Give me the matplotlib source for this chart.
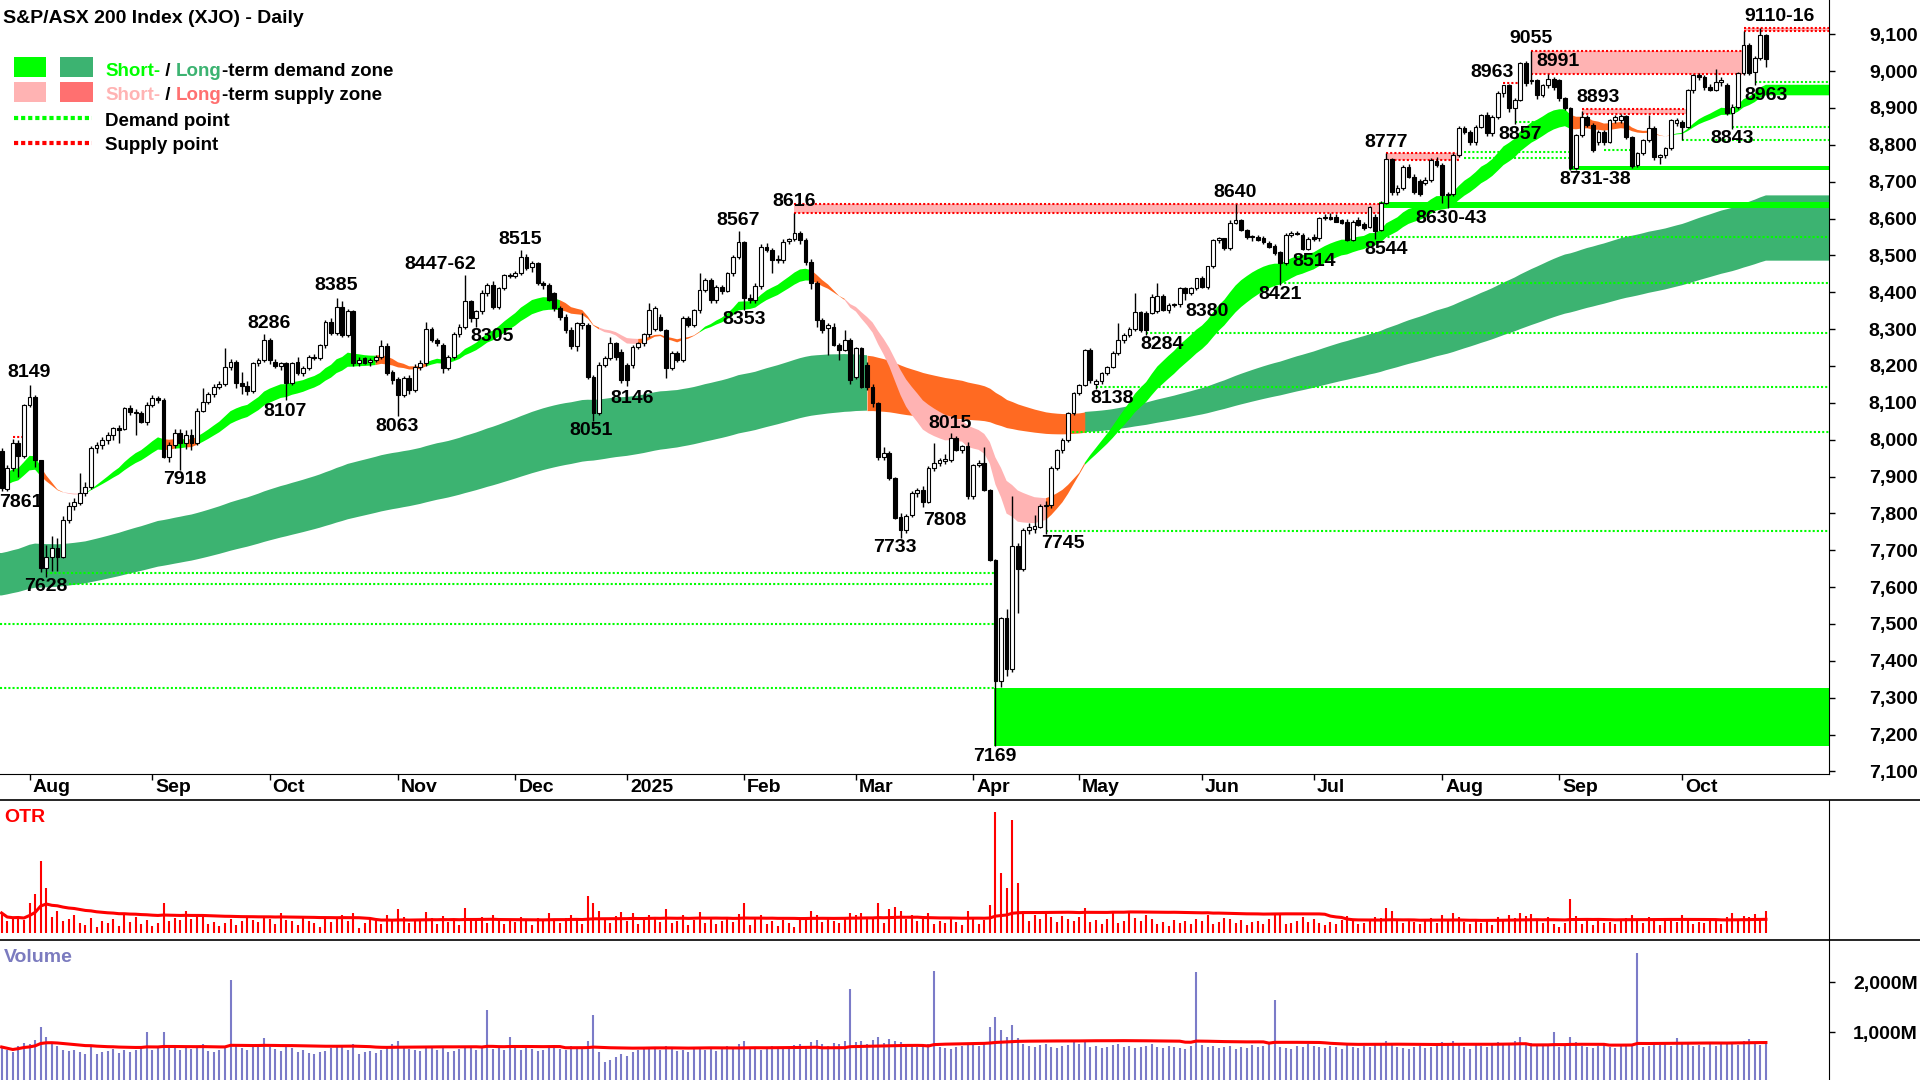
import numpy as np
import pandas as pd
import matplotlib
matplotlib.use("Agg")
import matplotlib.pyplot as plt
from matplotlib.patches import Rectangle
from matplotlib.lines import Line2D
from matplotlib.transforms import blended_transform_factory, offset_copy

plt.rcParams["font.family"] = ["Liberation Sans", "DejaVu Sans"]

# ---- daily candles (open, high, low, close), one list per month ----
jul_2024 = [
    (7968, 7978, 7861, 7870), (7866, 7932, 7860, 7923), (7923, 8002, 7915, 7991),
    (7991, 7998, 7900, 7957), (7956, 8098, 7950, 8094),
]
aug_2024 = [
    (8094, 8149, 8088, 8117), (8117, 8120, 7926, 7945), (7945, 7946, 7640, 7651),
    (7651, 7715, 7628, 7683), (7683, 7738, 7645, 7706), (7706, 7733, 7645, 7683),
    (7683, 7792, 7678, 7781), (7781, 7832, 7774, 7819), (7819, 7842, 7808, 7832),
    (7828, 7909, 7822, 7855), (7855, 7884, 7848, 7871), (7871, 7982, 7866, 7977),
    (7977, 7995, 7965, 7986), (7986, 8008, 7975, 8000), (8000, 8020, 7988, 8013),
    (8013, 8035, 8000, 8031), (8031, 8040, 7991, 8027), (8030, 8090, 8025, 8085),
    (8085, 8095, 8068, 8076), (8076, 8082, 8013, 8072), (8072, 8078, 8045, 8049),
    (8049, 8102, 8040, 8095),
]
sep_2024 = [
    (8095, 8120, 8088, 8113), (8113, 8118, 8100, 8108), (8108, 8112, 7950, 7954),
    (7954, 7995, 7940, 7986), (7986, 8030, 7978, 8018), (8018, 8030, 7918, 7991),
    (7991, 8025, 7975, 8013), (8013, 8028, 7972, 7991), (7991, 8085, 7985, 8079),
    (8079, 8140, 8075, 8103), (8103, 8130, 8098, 8123), (8123, 8150, 8115, 8144),
    (8144, 8160, 8138, 8150), (8150, 8248, 8145, 8198), (8198, 8220, 8190, 8212),
    (8212, 8216, 8140, 8155), (8155, 8185, 8125, 8146), (8146, 8160, 8122, 8131),
    (8131, 8212, 8128, 8207), (8207, 8222, 8200, 8215), (8215, 8286, 8210, 8271),
]
oct_2024 = [
    (8271, 8275, 8205, 8215), (8212, 8220, 8195, 8201), (8201, 8212, 8190, 8207),
    (8207, 8212, 8107, 8153), (8153, 8212, 8148, 8207), (8210, 8225, 8175, 8180),
    (8180, 8200, 8172, 8194), (8194, 8230, 8188, 8225), (8225, 8232, 8215, 8221),
    (8221, 8260, 8215, 8257), (8257, 8325, 8250, 8320), (8320, 8330, 8285, 8289),
    (8289, 8385, 8285, 8361), (8361, 8375, 8280, 8284), (8284, 8355, 8278, 8348),
    (8348, 8352, 8200, 8207), (8207, 8225, 8200, 8216), (8221, 8225, 8205, 8207),
    (8210, 8222, 8200, 8216), (8216, 8230, 8210, 8225), (8225, 8270, 8218, 8253),
    (8253, 8262, 8175, 8180), (8185, 8190, 8150, 8162),
]
nov_2024 = [
    (8164, 8170, 8063, 8121), (8121, 8172, 8115, 8167), (8167, 8175, 8125, 8135),
    (8135, 8205, 8130, 8198), (8198, 8215, 8190, 8207), (8207, 8320, 8200, 8300),
    (8300, 8305, 8265, 8271), (8271, 8275, 8255, 8262), (8257, 8262, 8180, 8194),
    (8194, 8230, 8188, 8225), (8225, 8292, 8220, 8287), (8287, 8315, 8280, 8307),
    (8307, 8447, 8300, 8377), (8377, 8380, 8320, 8329), (8329, 8352, 8305, 8348),
    (8348, 8405, 8340, 8397), (8397, 8425, 8390, 8420), (8420, 8430, 8355, 8361),
    (8361, 8415, 8355, 8411), (8411, 8450, 8405, 8447), (8447, 8452, 8438, 8443),
]
dec_2024 = [
    (8443, 8458, 8440, 8452), (8452, 8515, 8448, 8497), (8497, 8505, 8460, 8465),
    (8468, 8485, 8455, 8479), (8479, 8482, 8420, 8424), (8424, 8430, 8410, 8420),
    (8420, 8425, 8375, 8379), (8397, 8400, 8350, 8357), (8357, 8362, 8325, 8334),
    (8334, 8340, 8290, 8298), (8298, 8305, 8245, 8253), (8253, 8320, 8240, 8316),
    (8311, 8345, 8300, 8316), (8311, 8318, 8165, 8171), (8171, 8175, 8051, 8072),
    (8072, 8210, 8068, 8203), (8203, 8228, 8198, 8221), (8221, 8280, 8215, 8262),
    (8262, 8265, 8215, 8225), (8239, 8245, 8155, 8162),
]
jan_2025 = [
    (8203, 8208, 8146, 8162), (8203, 8258, 8195, 8252), (8252, 8265, 8245, 8262),
    (8262, 8290, 8255, 8287), (8287, 8370, 8280, 8352), (8300, 8362, 8295, 8356),
    (8334, 8340, 8295, 8298), (8298, 8300, 8167, 8194), (8194, 8240, 8188, 8234),
    (8234, 8240, 8212, 8216), (8216, 8335, 8210, 8329), (8329, 8335, 8305, 8311),
    (8311, 8355, 8305, 8352), (8352, 8452, 8345, 8406), (8406, 8440, 8400, 8433),
    (8433, 8440, 8372, 8379), (8379, 8420, 8370, 8415), (8413, 8420, 8395, 8404),
    (8404, 8455, 8400, 8452), (8452, 8500, 8445, 8497), (8497, 8567, 8490, 8537),
]
feb_2025 = [
    (8537, 8540, 8353, 8384), (8384, 8395, 8370, 8379), (8379, 8425, 8370, 8417),
    (8417, 8530, 8410, 8524), (8524, 8535, 8510, 8515), (8515, 8520, 8451, 8488),
    (8488, 8500, 8480, 8490), (8488, 8545, 8480, 8537), (8539, 8548, 8530, 8544),
    (8544, 8616, 8540, 8562), (8562, 8565, 8530, 8542), (8542, 8548, 8475, 8483),
    (8483, 8490, 8410, 8424), (8424, 8430, 8307, 8325), (8325, 8330, 8290, 8298),
    (8302, 8318, 8230, 8311), (8307, 8318, 8255, 8257), (8257, 8262, 8216, 8243),
    (8243, 8298, 8240, 8271), (8271, 8275, 8150, 8162),
]
mar_2025 = [
    (8171, 8252, 8165, 8248), (8248, 8252, 8140, 8144), (8203, 8210, 8135, 8144),
    (8144, 8150, 8090, 8099), (8099, 8102, 7945, 7954), (7954, 7980, 7945, 7965),
    (7965, 7970, 7890, 7895), (7895, 7900, 7785, 7787), (7791, 7800, 7733, 7755),
    (7755, 7798, 7748, 7793), (7796, 7862, 7790, 7856), (7856, 7870, 7845, 7864),
    (7864, 7875, 7818, 7832), (7832, 7930, 7828, 7923), (7923, 7990, 7915, 7937),
    (7937, 7950, 7930, 7944), (7942, 7960, 7935, 7947), (7945, 8017, 7940, 8004),
    (8004, 8010, 7970, 7972), (7972, 7985, 7965, 7983), (7983, 7995, 7840, 7846),
]
apr_2025 = [
    (7846, 7935, 7840, 7932), (7932, 7945, 7925, 7938), (7938, 7981, 7860, 7864),
    (7864, 7866, 7670, 7674), (7674, 7676, 7169, 7344), (7344, 7520, 7330, 7515),
    (7515, 7540, 7360, 7377), (7377, 7846, 7370, 7712), (7712, 7720, 7529, 7649),
    (7649, 7760, 7645, 7755), (7755, 7775, 7745, 7764), (7758, 7796, 7748, 7766),
    (7764, 7825, 7760, 7820), (7820, 7835, 7745, 7822), (7822, 7928, 7815, 7923),
    (7923, 7975, 7918, 7972), (7972, 8005, 7965, 8000), (8000, 8075, 7995, 8072),
    (8072, 8130, 8068, 8128),
]
may_2025 = [
    (8128, 8152, 8120, 8149), (8149, 8245, 8145, 8243), (8243, 8250, 8155, 8162),
    (8152, 8165, 8138, 8158), (8158, 8185, 8150, 8180), (8180, 8200, 8175, 8198),
    (8198, 8240, 8195, 8234), (8234, 8316, 8230, 8271), (8271, 8290, 8262, 8285),
    (8285, 8305, 8280, 8300), (8300, 8397, 8295, 8347), (8347, 8350, 8292, 8298),
    (8345, 8350, 8284, 8298), (8345, 8395, 8340, 8388), (8348, 8424, 8345, 8390),
    (8390, 8395, 8350, 8352), (8352, 8370, 8345, 8365), (8365, 8372, 8360, 8368),
    (8368, 8415, 8360, 8411), (8411, 8415, 8380, 8399), (8399, 8415, 8392, 8411),
    (8411, 8440, 8405, 8438),
]
jun_2025 = [
    (8438, 8445, 8412, 8415), (8415, 8472, 8410, 8470), (8470, 8545, 8465, 8542),
    (8542, 8550, 8535, 8546), (8546, 8548, 8515, 8519), (8519, 8595, 8515, 8589),
    (8589, 8640, 8585, 8596), (8596, 8600, 8565, 8569), (8569, 8572, 8545, 8549),
    (8549, 8555, 8540, 8551), (8551, 8555, 8538, 8542), (8547, 8552, 8532, 8537),
    (8535, 8540, 8520, 8524), (8526, 8530, 8500, 8506), (8508, 8512, 8421, 8479),
    (8479, 8560, 8475, 8555), (8555, 8566, 8550, 8562), (8562, 8566, 8555, 8557),
    (8556, 8560, 8514, 8517), (8517, 8550, 8514, 8544),
]
jul_2025 = [
    (8549, 8558, 8540, 8544), (8546, 8605, 8540, 8601), (8601, 8612, 8595, 8605),
    (8605, 8615, 8595, 8598), (8605, 8612, 8590, 8592), (8596, 8600, 8585, 8587),
    (8592, 8600, 8538, 8542), (8542, 8597, 8538, 8592), (8596, 8605, 8580, 8583),
    (8585, 8590, 8570, 8574), (8578, 8635, 8575, 8632), (8605, 8612, 8544, 8565),
    (8569, 8648, 8565, 8643), (8643, 8777, 8640, 8761), (8761, 8765, 8665, 8673),
    (8673, 8690, 8665, 8682), (8682, 8745, 8678, 8741), (8741, 8748, 8710, 8714),
    (8714, 8720, 8668, 8673), (8703, 8708, 8662, 8668), (8696, 8712, 8690, 8705),
    (8705, 8765, 8700, 8759), (8757, 8768, 8740, 8745),
]
aug_2025 = [
    (8745, 8750, 8643, 8664), (8664, 8672, 8630, 8668), (8668, 8778, 8660, 8772),
    (8772, 8850, 8768, 8845), (8845, 8852, 8830, 8836), (8836, 8840, 8800, 8809),
    (8809, 8855, 8800, 8849), (8849, 8885, 8845, 8881), (8881, 8890, 8825, 8831),
    (8831, 8880, 8825, 8876), (8876, 8945, 8870, 8940), (8940, 8963, 8930, 8962),
    (8962, 8965, 8890, 8899), (8899, 8928, 8857, 8922), (8922, 9025, 8918, 9021),
    (9021, 9028, 8960, 8967), (8972, 9055, 8965, 8976), (8976, 8980, 8925, 8935),
    (8935, 8965, 8930, 8962), (8962, 8991, 8955, 8980), (8980, 8985, 8950, 8958),
]
sep_2025 = [
    (8976, 8980, 8920, 8926), (8926, 8930, 8895, 8899), (8899, 8902, 8731, 8736),
    (8736, 8830, 8733, 8827), (8827, 8893, 8820, 8876), (8876, 8880, 8848, 8854),
    (8854, 8858, 8780, 8786), (8809, 8840, 8800, 8836), (8836, 8840, 8800, 8809),
    (8809, 8870, 8805, 8867), (8867, 8880, 8860, 8876), (8867, 8885, 8860, 8878),
    (8878, 8882, 8815, 8822), (8822, 8825, 8738, 8743), (8745, 8780, 8740, 8777),
    (8777, 8815, 8772, 8813), (8813, 8881, 8808, 8845), (8845, 8850, 8760, 8768),
    (8766, 8775, 8748, 8772), (8772, 8795, 8765, 8791), (8791, 8870, 8785, 8867),
    (8858, 8872, 8850, 8867),
]
oct_2025 = [
    (8863, 8868, 8813, 8849), (8849, 8952, 8845, 8949), (8949, 8993, 8940, 8990),
    (8990, 8995, 8975, 8983), (8983, 8990, 8950, 8956), (8958, 8965, 8945, 8950),
    (8950, 9005, 8945, 8971), (8971, 8985, 8960, 8975), (8962, 8968, 8880, 8886),
    (8886, 8910, 8843, 8902), (8902, 8998, 8898, 8994), (8994, 9110, 8990, 9071),
    (9071, 9075, 8990, 8996), (8999, 9040, 8963, 9035), (9035, 9116, 9030, 9098),
    (9098, 9102, 9010, 9032),
]
months = [jul_2024, aug_2024, sep_2024, oct_2024, nov_2024, dec_2024, jan_2025,
          feb_2025, mar_2025, apr_2025, may_2025, jun_2025, jul_2025, aug_2025,
          sep_2025, oct_2025]
month_names = ["Aug", "Sep", "Oct", "Nov", "Dec", "2025", "Feb", "Mar", "Apr",
               "May", "Jun", "Jul", "Aug", "Sep", "Oct"]

# OTR indicator (arbitrary units), one row per month
otr_values = [
    20, 12, 14, 16, 13,
    30, 39, 72, 45, 16, 22, 12, 14, 18, 10, 8, 15, 6, 12, 10, 14, 7, 18, 11, 16, 9, 13,
    7, 10, 30, 12, 15, 13, 22, 14, 18, 16, 9, 11, 7, 10, 14, 8, 12, 16, 13, 11, 17,
    14, 9, 20, 13, 12, 8, 15, 12, 10, 6, 16, 11, 14, 18, 12, 20, 5, 10, 15, 12, 9, 18, 13,
    24, 16, 10, 14, 12, 21, 15, 9, 17, 11, 13, 8, 25, 14, 12, 16, 10, 18, 14, 9, 12,
    11, 16, 14, 8, 15, 12, 20, 13, 10, 15, 18, 14, 9, 37, 30, 22, 14, 10, 17, 21,
    12, 20, 9, 13, 18, 14, 11, 24, 10, 12, 18, 8, 13, 21, 10, 16, 9, 12, 14, 11, 19,
    30, 8, 14, 18, 9, 12, 7, 13, 10, 6, 15, 16, 22, 18, 11, 14, 12, 10, 16, 20,
    18, 20, 16, 14, 30, 10, 24, 26, 22, 14, 18, 12, 16, 20, 9, 12, 10, 15, 11, 8, 22,
    15, 9, 13, 28, 121, 60, 45, 113, 50, 22, 12, 18, 14, 20, 16, 11, 17, 14, 12,
    16, 25, 11, 13, 9, 14, 20, 10, 12, 22, 15, 12, 18, 14, 9, 11, 7, 13, 10, 12, 9, 14,
    12, 18, 9, 11, 15, 14, 10, 13, 8, 11, 12, 9, 14, 20, 18, 9, 10, 12, 16, 11,
    14, 10, 8, 11, 9, 13, 17, 12, 9, 10, 14, 16, 15, 25, 22, 12, 10, 14, 11, 9, 12, 15, 10,
    18, 12, 20, 16, 11, 9, 13, 10, 14, 8, 16, 12, 18, 15, 20, 17, 19, 13, 10, 16, 9,
    6, 10, 34, 17, 9, 14, 8, 12, 10, 11, 9, 13, 15, 18, 12, 10, 16, 13, 8, 14, 12, 11,
    18, 13, 9, 11, 10, 12, 14, 9, 16, 20, 12, 17, 16, 19, 14, 22,
]
# daily volume, millions, one row per month
volume_values = [
    700, 650, 600, 720, 780,
    760, 850, 1100, 900, 800, 720, 650, 620, 640, 600, 560, 700, 560, 600, 620, 660, 580, 640, 610, 650, 700, 1000,
    650, 700, 1000, 720, 680, 640, 700, 660, 720, 760, 620, 600, 650, 700, 2040, 720, 680, 640, 700, 760, 880,
    700, 660, 620, 740, 680, 600, 640, 580, 560, 600, 620, 680, 720, 700, 650, 760, 560, 600, 620, 580, 640, 700, 760,
    820, 700, 660, 640, 620, 720, 680, 640, 700, 600, 620, 660, 720, 680, 640, 700, 1450, 660, 700, 640, 900,
    680, 640, 700, 660, 620, 640, 680, 700, 660, 640, 720, 680, 700, 820, 1350, 600, 400, 450, 500, 560,
    520, 600, 640, 660, 700, 680, 640, 720, 660, 620, 640, 600, 660, 700, 640, 680, 620, 700, 720, 680, 760,
    820, 700, 680, 640, 700, 720, 660, 680, 700, 740, 760, 700, 800, 840, 760, 720, 780, 760, 820, 1860,
    800, 820, 760, 840, 900, 780, 860, 820, 800, 760, 740, 700, 720, 760, 2220, 700, 680, 660, 700, 720, 780,
    760, 720, 800, 1100, 1300, 1050, 900, 1150, 880, 760, 720, 700, 740, 760, 700, 680, 720, 740, 820,
    760, 800, 700, 720, 680, 700, 740, 760, 700, 720, 680, 700, 720, 760, 700, 680, 720, 700, 680, 660, 720, 2200,
    740, 700, 720, 680, 700, 720, 660, 700, 680, 740, 700, 720, 760, 1650, 700, 680, 660, 720, 700, 760,
    720, 700, 680, 720, 700, 660, 740, 700, 680, 720, 700, 740, 760, 820, 780, 700, 680, 660, 700, 720, 680, 700, 740,
    800, 760, 820, 780, 700, 660, 740, 720, 700, 760, 800, 740, 780, 820, 900, 760, 780, 720, 740, 760, 1000,
    700, 720, 900, 800, 720, 700, 680, 720, 740, 700, 680, 720, 760, 740, 2580, 700, 720, 760, 740, 760, 720, 880,
    760, 800, 720, 740, 700, 760, 720, 780, 800, 760, 740, 820, 860, 780, 740, 760,
]

# zone colour states: (first bar, bar after last, state)
short_band_states = [
    (0, 7, "demand"), (7, 11, "turn"), (11, 15, "supply"), (15, 29, "demand"),
    (29, 31, "turn"), (31, 33, "demand"), (33, 35, "turn"), (35, 67, "demand"),
    (67, 76, "turn"), (76, 100, "demand"), (100, 107, "turn"), (107, 114, "supply"),
    (114, 125, "turn"), (125, 145, "demand"), (145, 151, "turn"), (151, 187, "supply"),
    (187, 194, "turn"), (194, 281, "demand"), (281, 299, "turn"), (299, 317, "demand"),
]
long_band_states = [(0, 155, "demand"), (155, 194, "turn"), (194, 317, "demand")]

# horizontal demand / supply levels: (price, first bar, last bar or None = to the edge)
demand_points = [
    (7326, -1, 178), (7500, -1, 178), (7609, 12, 178), (7638, 8, 178),
    (7753, 187, None), (8021, 191, None), (8143, 196, None), (8290, 205, None),
    (8425, 229, None), (8550, 246, None), (8764, 262, 281), (8781, 262, 281),
    (8862, 271, 281), (8786, 287, 292), (8813, 301, None), (8849, 310, None),
    (8970, 314, None),
]
supply_points = [(8007, 2, 4), (8968, 269, 272)]
demand_zones = [(7169, 7326, 178, None), (8630, 8646, 247, None), (8731, 8742, 281, None)]
supply_zones = [(8616, 8640, 142, 247), (8760, 8777, 248, 261), (8991, 9055, 274, 312),
                (8884, 8896, 283, 302), (9110, 9116, 312, None)]

# swing annotations: (text, bar, price)
swing_labels = [
    ("7861", 3.5, 7829), ("8149", 4.9, 8182), ("7628", 7.9, 7601), ("7918", 32.9, 7891),
    ("8286", 47.9, 8314), ("8107", 50.8, 8076), ("8385", 60.0, 8418), ("8063", 70.8, 8035),
    ("8447-62", 78.5, 8476), ("8305", 87.8, 8279), ("8515", 92.9, 8542), ("8051", 105.6, 8024),
    ("8146", 112.9, 8112), ("8567", 131.9, 8596), ("8353", 132.9, 8325), ("8616", 142.0, 8646),
    ("7733", 160.0, 7707), ("7808", 168.9, 7782), ("8015", 169.9, 8045), ("7169", 177.9, 7140),
    ("7745", 190.0, 7719), ("8138", 198.9, 8112), ("8284", 207.8, 8257), ("8380", 215.9, 8347),
    ("8640", 220.9, 8672), ("8421", 229.0, 8393), ("8514", 235.0, 8483), ("8544", 247.9, 8516),
    ("8777", 248.0, 8807), ("8630-43", 259.6, 8599), ("8963", 267.0, 8997), ("8857", 272.0, 8829),
    ("9055", 274.0, 9089), ("8991", 278.8, 9025), ("8893", 285.9, 8928), ("8731-38", 285.5, 8705),
    ("8843", 310.0, 8818), ("8963", 316.0, 8935), ("9110-16", 318.5, 9148),
]

LIME = "#00FF00"
SEA = "#3CB371"
PINK = "#FFB3B3"
SALMON = "#FF7070"
ORANGE = "#FF6A22"
RED = "#FF0000"
VOL_BLUE = "#7B7BC8"


def ema(values, period, seed):
    k = 2.0 / (period + 1)
    out = np.empty(len(values))
    prev = seed
    for i, v in enumerate(values):
        prev = prev + k * (v - prev)
        out[i] = prev
    return out


def states_array(segments, n):
    st = np.full(n, "", dtype="<U8")
    for a, b, s in segments:
        st[a:b] = s
    return st


ohlc = np.array([bar for m in months for bar in m], dtype=float)
o, h, l, c = ohlc.T
n = len(c)
bars = np.arange(n)
month_start = np.cumsum([0] + [len(m) for m in months])[:-1][1:]

x_left, x_right = -0.29, n + 10.3
y_low, y_high = 7093, 9193

W, H = 1920, 1080
fig = plt.figure(figsize=(19.2, 10.8), dpi=100)


def fig_box(x0, y0, x1, y1):
    return [x0 / W, 1 - y1 / H, (x1 - x0) / W, (y1 - y0) / H]


ax = fig.add_axes(fig_box(0, 0, 1829, 774))
ax_otr = fig.add_axes(fig_box(0, 800, 1829, 940))
ax_vol = fig.add_axes(fig_box(0, 940, 1829, 1080))

# ---- demand / supply bands ----
xb = np.concatenate([[x_left], bars, [x_right]])


def draw_band(fast, slow, segments, colours):
    lo = np.minimum(fast, slow)
    hi = np.maximum(fast, slow)
    lo = np.concatenate([[lo[0]], lo, [lo[-1]]])
    hi = np.concatenate([[hi[0]], hi, [hi[-1]]])
    st = states_array(segments, n)
    st = np.concatenate([[st[0]], st, [st[-1]]])
    for state, colour in colours.items():
        mask = st == state
        mask = mask | np.concatenate([[False], mask[:-1]])
        ax.fill_between(xb, lo, hi, where=mask, color=colour, lw=0, zorder=1)


draw_band(ema(c, 140, 7690), ema(c, 240, 7575), long_band_states,
          {"demand": SEA, "turn": ORANGE, "supply": SALMON})
draw_band(ema(c, 20, 7915), ema(c, 30, 7875), short_band_states,
          {"demand": LIME, "turn": ORANGE, "supply": PINK})

# ---- zones and levels ----
for lo_p, hi_p, a, b in demand_zones:
    b = x_right if b is None else b
    ax.add_patch(Rectangle((a - 0.3, lo_p), b - a + 0.3, hi_p - lo_p,
                           facecolor=LIME, edgecolor="none", zorder=2))

for lo_p, hi_p, a, b in supply_zones:
    b = x_right if b is None else b
    ax.add_patch(Rectangle((a, lo_p), b - a, hi_p - lo_p,
                           facecolor=PINK, edgecolor="none", zorder=2))
    ax.hlines([lo_p, hi_p], a, b, colors=RED, lw=1.5,
              linestyles=(0, (1, 1)), zorder=3)

for p, a, b in demand_points:
    b = x_right if b is None else b
    a = x_left if a < 0 else a
    ax.hlines(p, a, b, colors=LIME, lw=1.5, linestyles=(0, (1, 1)), zorder=3)

for p, a, b in supply_points:
    ax.hlines(p, a, b, colors=RED, lw=1.5, linestyles=(0, (1, 1)), zorder=3)

# ---- candles ----
up = c >= o
ax.vlines(bars, l, h, color="black", lw=1.0, zorder=4)
body_lo = np.minimum(o, c)
body_h = np.maximum(np.abs(c - o), 3)
ax.bar(bars, body_h, bottom=body_lo, width=0.68,
       color=np.where(up, "white", "black"), edgecolor="black",
       linewidth=0.8, zorder=5)

for text, bx, py in swing_labels:
    ax.text(bx, py, text, ha="center", va="center", fontsize=14,
            fontweight="bold", color="black", zorder=6, clip_on=True)

ax.set_xlim(x_left, x_right)
ax.set_ylim(y_low, y_high)
for side in ("top", "left"):
    ax.spines[side].set_visible(False)
ax.yaxis.tick_right()
ax.set_yticks(range(7100, 9101, 100))
ax.set_yticklabels([f"{v:,}" for v in range(7100, 9101, 100)])
ax.tick_params(axis="y", direction="out", length=4, width=1, pad=59.8,
               labelsize=14)
for t in ax.get_yticklabels():
    t.set_ha("right")
    t.set_fontweight("bold")
ax.set_xticks(month_start)
ax.tick_params(axis="x", direction="out", length=4, width=1, labelbottom=False)

month_trans = offset_copy(blended_transform_factory(ax.transData, ax.transAxes),
                          fig=fig, x=3, y=-13, units="dots")
for b, name in zip(month_start, month_names):
    ax.text(b, 0, name, transform=month_trans, ha="left", va="center",
            fontsize=14, fontweight="bold")

# ---- OTR panel ----
otr = np.array(otr_values, dtype=float)
ax_otr.vlines(bars, 0, otr, color=RED, lw=1.5)
ax_otr.plot(bars, pd.Series(otr).rolling(60, min_periods=1).mean(), color=RED, lw=2.2)
ax_otr.set_xlim(x_left, x_right)
ax_otr.set_ylim(-7, 133)

# ---- volume panel ----
vol = np.array(volume_values, dtype=float)
ax_vol.vlines(bars, 0, vol, color=VOL_BLUE, lw=1.5)
ax_vol.plot(bars, pd.Series(vol).rolling(60, min_periods=1).mean(), color=RED, lw=2.2)
ax_vol.set_xlim(x_left, x_right)
ax_vol.set_ylim(40, 2840)
ax_vol.yaxis.tick_right()
ax_vol.set_yticks([1000, 2000])
ax_vol.set_yticklabels(["1,000M", "2,000M"])
ax_vol.tick_params(axis="y", direction="out", length=4, width=1, pad=59.8,
                   labelsize=14)
for t in ax_vol.get_yticklabels():
    t.set_ha("right")
    t.set_fontweight("bold")

for a in (ax_otr, ax_vol):
    for side in ("top", "left", "bottom"):
        a.spines[side].set_visible(False)
    a.set_xticks([])
ax_otr.set_yticks([])

for y in (800, 940):
    fig.add_artist(Line2D([0, 1], [1 - y / H] * 2, color="black", lw=1.2,
                          transform=fig.transFigure))

fig.text(4 / W, 1 - 817 / H, "OTR", color=RED, fontsize=14, fontweight="bold",
         va="center")
fig.text(4 / W, 1 - 957 / H, "Volume", color="#7B7BBF", fontsize=14,
         fontweight="bold", va="center")

# ---- title and legend ----
fig.text(3 / W, 1 - 22.7 / H, "S&P/ASX 200 Index (XJO) - Daily", fontsize=14,
         fontweight="bold", va="baseline")

for (x0, x1), (y0, y1), colour in [
        ((14, 46), (57, 77), LIME), ((60, 93), (57, 77), SEA),
        ((14, 46), (82, 102), PINK), ((60, 93), (82, 102), SALMON)]:
    fig.add_artist(Rectangle((x0 / W, 1 - y1 / H), (x1 - x0) / W, (y1 - y0) / H,
                             transform=fig.transFigure, facecolor=colour,
                             edgecolor="none"))
for y, colour in [(118, LIME), (143, RED)]:
    fig.add_artist(Line2D([14 / W, 92 / W], [1 - y / H] * 2, color=colour, lw=3,
                          linestyle=(0, (1, 0.7)), transform=fig.transFigure))

renderer = fig.canvas.get_renderer()


def rich_text(x_px, y_px, pieces):
    x = x_px
    for text, colour in pieces:
        t = fig.text(x / W, 1 - y_px / H, text, color=colour, fontsize=13.5,
                     fontweight="bold", va="baseline")
        x += t.get_window_extent(renderer).width


rich_text(105, 76, [("Short-", LIME), (" / ", "black"), ("Long", SEA),
                    ("-term demand zone", "black")])
rich_text(105, 100, [("Short-", PINK), (" / ", "black"), ("Long", SALMON),
                     ("-term supply zone", "black")])
rich_text(105, 126, [("Demand point", "black")])
rich_text(105, 150, [("Supply point", "black")])

fig.savefig("out.png", dpi=100)
